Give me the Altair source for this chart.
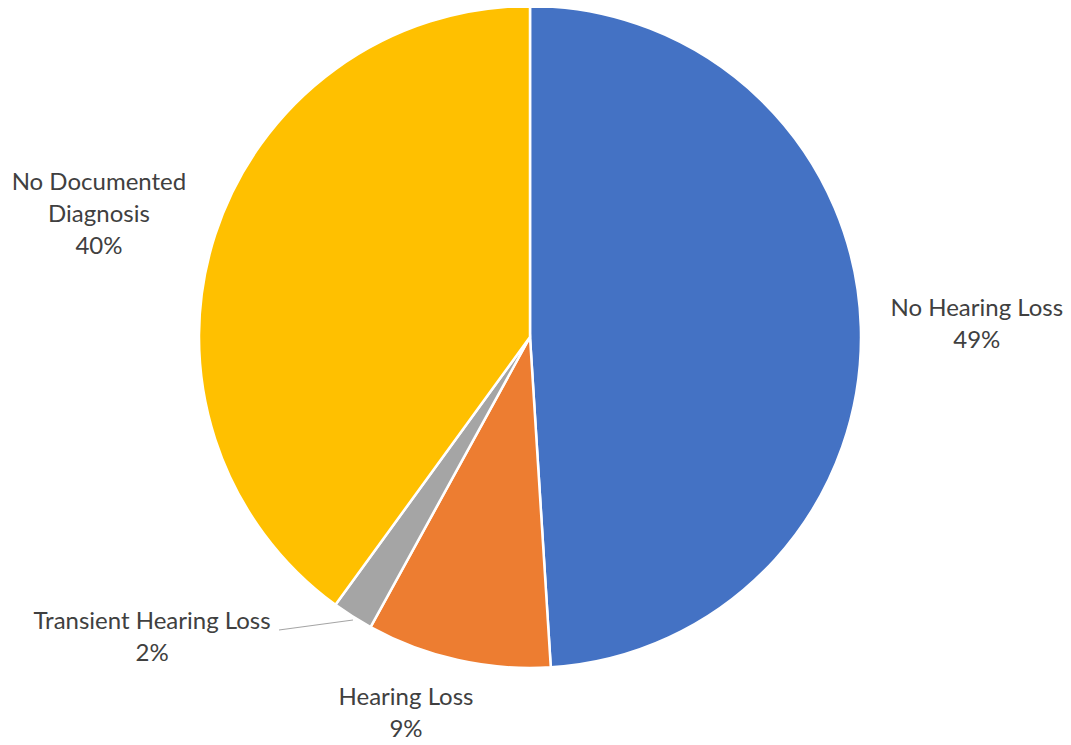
import altair as alt
import pandas as pd

categories = ["No Hearing Loss", "Hearing Loss", "Transient Hearing Loss", "No Documented Diagnosis"]
values = [49, 9, 2, 40]
labels = ["No Hearing Loss\n49%", "Hearing Loss\n9%", "Transient Hearing Loss\n2%", "No Documented\nDiagnosis\n40%"]
colors = ["#4472C4", "#ED7D31", "#A5A5A5", "#FFC000"]

df = pd.DataFrame({"category": categories, "value": values, "label": labels, "order": list(range(len(categories)))})

CX, CY, R = 522, 329, 331
FONT = "Lato"
TXT = "#404040"

pie = alt.Chart(df).mark_arc(outerRadius=R, stroke="white", strokeWidth=2.5).encode(
    theta=alt.Theta("value:Q", stack=True),
    order=alt.Order("order:Q"),
    color=alt.Color("category:N", scale=alt.Scale(domain=categories, range=colors), legend=None),
    x=alt.value(CX), y=alt.value(CY),
)

lab_base = alt.Chart(df).transform_window(
    cum="sum(value)", sort=[alt.SortField("order")], frame=[None, 0]
).transform_calculate(mid="datum.cum - datum.value / 2")

def lab(cat, radius, dx=0, dy=0):
    return lab_base.transform_filter(alt.datum.category == cat).mark_text(
        font=FONT, fontSize=24, color=TXT, lineBreak="\n", lineHeight=32,
        align="center", baseline="middle", radius=radius, dx=dx, dy=dy,
    ).encode(
        theta=alt.Theta("mid:Q", stack=False, scale=alt.Scale(domain=[0, 100])),
        text="label:N", x=alt.value(CX), y=alt.value(CY),
    )

leader = alt.Chart(df).transform_filter(alt.datum.category == "Transient Hearing Loss").mark_rule(
    color="#A5A5A5", strokeWidth=1.2
).encode(x=alt.value(271), y=alt.value(622), x2=alt.value(345), y2=alt.value(612))

chart = alt.layer(
    pie,
    leader,
    lab("No Hearing Loss", 447, dy=-14),
    lab("Hearing Loss", 385, dx=-40, dy=-15),
    lab("Transient Hearing Loss", 360, dx=-185, dy=-19),
    lab("No Documented Diagnosis", 448, dx=-5, dy=-16),
).resolve_scale(theta="independent").properties(
    width=1055, height=729, padding=0, autosize=alt.AutoSizeParams(type="none")
).configure_view(stroke=None)

chart.save("out.html", embed_options={"renderer": "svg", "actions": False})
